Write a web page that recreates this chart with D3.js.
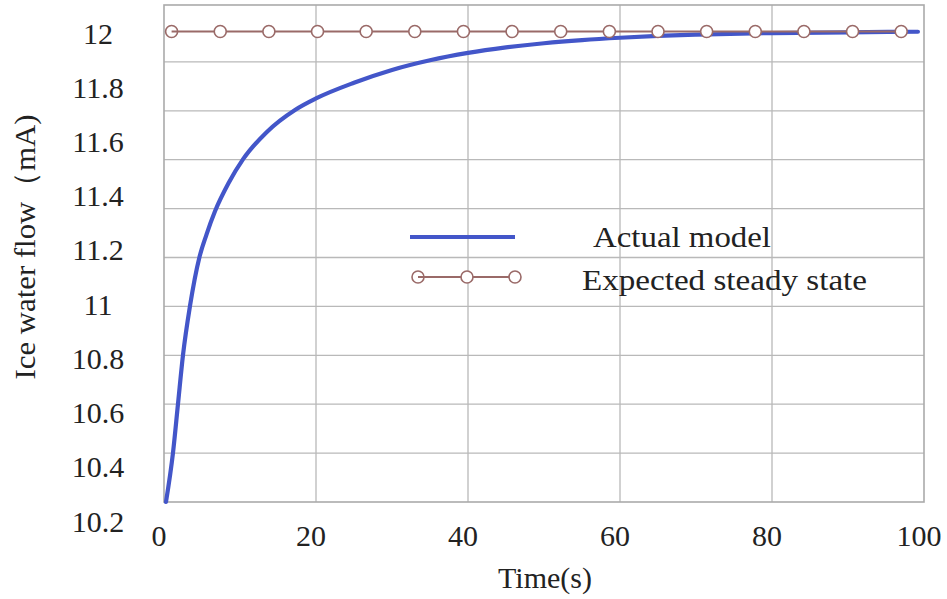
<!DOCTYPE html>
<html>
<head>
<meta charset="utf-8">
<script src="https://cdn.jsdelivr.net/npm/d3@7"></script>
<style>
  html, body { margin: 0; padding: 0; background: #ffffff; }
  svg { display: block; }
  text { font-family: "Liberation Serif", "Times New Roman", serif; fill: #222; }
</style>
</head>
<body>
<svg id="chart" width="947" height="599"></svg>
<script>
// ---- data ----
const actualTime  = [0.26, 1.18, 1.84, 2.5, 3.42, 4.67, 5.6, 6.71, 8.5, 10.43, 13.5, 17.24, 20, 25, 30, 35, 40, 45, 50, 55, 60, 65, 70, 80, 90, 99.2];
const actualValue = [10.2, 10.3875, 10.575, 10.7625, 10.95, 11.1375, 11.224, 11.312, 11.42, 11.5125, 11.615, 11.7, 11.744, 11.804, 11.853, 11.89, 11.918, 11.939, 11.955, 11.967, 11.976, 11.983, 11.988, 11.994, 11.997, 11.999];
const expectedTime  = [1, 7.4, 13.8, 20.2, 26.6, 33, 39.4, 45.8, 52.2, 58.6, 65, 71.4, 77.8, 84.2, 90.6, 97];
const expectedValue = [12, 12, 12, 12, 12, 12, 12, 12, 12, 12, 12, 12, 12, 12, 12, 12];
const xTicks = [0, 20, 40, 60, 80, 100];
const yTicks = [10.2, 10.4, 10.6, 10.8, 11, 11.2, 11.4, 11.6, 11.8, 12];
const seriesNames = ["Actual model", "Expected steady state"];
const xTitle = "Time(s)";
const yTitle = "Ice water flow（mA)";

// ---- layout ----
const plot = { left: 164, right: 924, top: 5, bottom: 502 };
const svg = d3.select("#chart");

const x = d3.scaleLinear().domain([0, 100]).range([plot.left, plot.right]);
const y = d3.scaleLinear().domain([10.2, 12]).range([plot.bottom, 31.5]);
const yLabel = d3.scaleLinear().domain([10.2, 12]).range([521, 33]);
const gridRow = d3.scaleLinear().domain([0, 10]).range([plot.bottom, 13]);

const gridColor = "#b9b9b9";
const blue = "#4356c9";
const brown = "#9a6a68";

// grid
const g = svg.append("g");
g.selectAll("line.h").data(d3.range(1, 10)).join("line")
  .attr("x1", plot.left).attr("x2", plot.right)
  .attr("y1", d => gridRow(d)).attr("y2", d => gridRow(d))
  .attr("stroke", gridColor).attr("stroke-width", 1.3);
g.selectAll("line.v").data(xTicks.slice(1, -1)).join("line")
  .attr("x1", d => x(d)).attr("x2", d => x(d))
  .attr("y1", plot.top).attr("y2", plot.bottom)
  .attr("stroke", gridColor).attr("stroke-width", 1.3);
g.append("rect")
  .attr("x", plot.left).attr("y", plot.top)
  .attr("width", plot.right - plot.left).attr("height", plot.bottom - plot.top)
  .attr("fill", "none").attr("stroke", "#aaaaaa").attr("stroke-width", 1.6);

// tick labels
svg.append("g").selectAll("text").data(xTicks).join("text")
  .attr("x", d => x(d) - 5).attr("y", 546)
  .attr("text-anchor", "middle").attr("font-size", 30)
  .text(d => d);
svg.append("g").selectAll("text").data(yTicks).join("text")
  .attr("x", 98).attr("y", d => yLabel(d) + 10.5)
  .attr("text-anchor", "middle").attr("font-size", 30)
  .text(d => d);

// axis titles
svg.append("text").attr("x", 545).attr("y", 588)
  .attr("text-anchor", "middle").attr("font-size", 30).text(xTitle);
svg.append("text")
  .attr("transform", "translate(35,247) rotate(-90)")
  .attr("text-anchor", "middle").attr("font-size", 30)
  .attr("textLength", 265).attr("lengthAdjust", "spacingAndGlyphs")
  .text(yTitle);

// actual model curve
const actual = actualTime.map((t, i) => ({ t, v: actualValue[i] }));
const expected = expectedTime.map((t, i) => ({ t, v: expectedValue[i] }));
const line = d3.line().x(d => x(d.t)).y(d => y(d.v)).curve(d3.curveMonotoneX);

svg.append("path").datum(actual)
  .attr("d", line).attr("fill", "none")
  .attr("stroke", blue).attr("stroke-width", 4.2).attr("stroke-linecap", "round");

// expected steady state
const mark = (sel) => sel.attr("r", 6).attr("fill", "#fff")
  .attr("stroke", brown).attr("stroke-width", 1.6);
svg.append("circle").datum(expected[0])
  .attr("cx", d => x(d.t)).attr("cy", d => y(d.v)).call(mark);
svg.append("path").datum(expected)
  .attr("d", d3.line().x(d => x(d.t)).y(d => y(d.v)))
  .attr("fill", "none").attr("stroke", brown).attr("stroke-width", 2);
svg.append("g").selectAll("circle").data(expected.slice(1)).join("circle")
  .attr("cx", d => x(d.t)).attr("cy", d => y(d.v)).call(mark);

// legend
const lg = svg.append("g");
lg.append("line").attr("x1", 410).attr("x2", 515).attr("y1", 237).attr("y2", 237)
  .attr("stroke", blue).attr("stroke-width", 4.2);
lg.append("text").attr("x", 593).attr("y", 247).attr("font-size", 30)
  .attr("textLength", 178).attr("lengthAdjust", "spacingAndGlyphs")
  .text(seriesNames[0]);
const lgPts = [418, 467, 515];
lg.append("circle").attr("cx", lgPts[0]).attr("cy", 277).call(mark);
lg.append("line").attr("x1", lgPts[0]).attr("x2", lgPts[2]).attr("y1", 277).attr("y2", 277)
  .attr("stroke", brown).attr("stroke-width", 2);
lg.selectAll("circle.p").data(lgPts.slice(1)).join("circle")
  .attr("cx", d => d).attr("cy", 277).call(mark);
lg.append("text").attr("x", 582).attr("y", 290).attr("font-size", 30)
  .attr("textLength", 285).attr("lengthAdjust", "spacingAndGlyphs")
  .text(seriesNames[1]);
</script>
</body>
</html>
